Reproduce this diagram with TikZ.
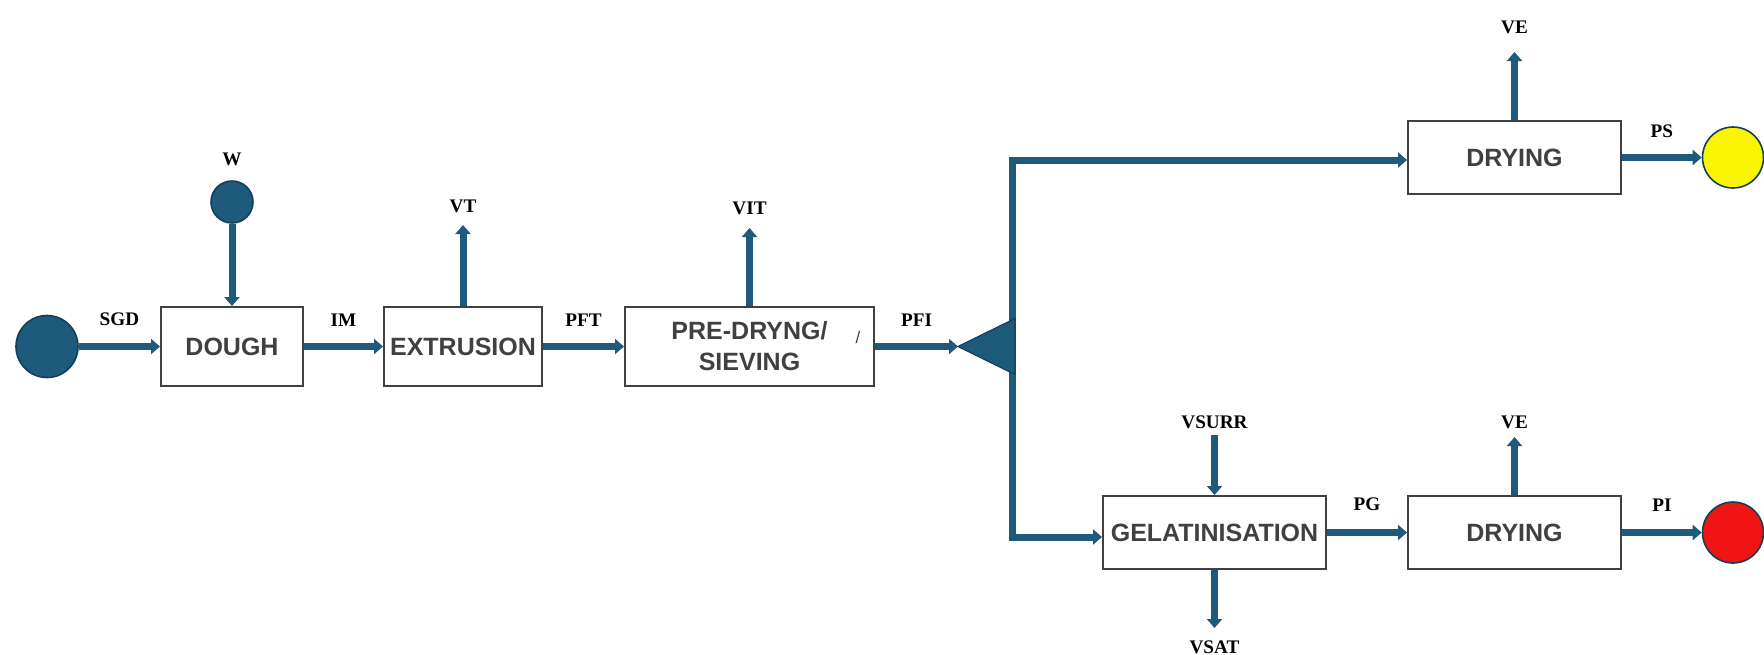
\documentclass[tikz,border=0pt]{standalone}
\usepackage{fontspec}
\setmainfont{Liberation Serif}
\newfontfamily\boxfont{Liberation Sans}
\usepackage{xcolor}
\usetikzlibrary{arrows.meta,positioning}

\definecolor{flowblue}{HTML}{1D5A7C}
\definecolor{flowdark}{HTML}{12405A}
\definecolor{boxgray}{HTML}{404040}
\definecolor{prodyellow}{HTML}{FAF500}
\definecolor{prodred}{HTML}{F01414}

\tikzset{
	procbox/.style={draw=boxgray, line width=1pt, fill=white, inner sep=0pt,
		minimum height=39.5pt, align=center, text=boxgray,
		font=\boxfont\bfseries\fontsize{12.5}{15.5}\selectfont},
	lbl/.style={font=\bfseries\fontsize{9.6}{11}\selectfont, inner sep=0pt},
	flow/.style={draw=flowblue, line width=3.5pt, -{Triangle[length=4.5pt,width=7.5pt]}},
	endpt/.style={circle, draw=flowdark, line width=0.8pt, inner sep=0pt}
}

\begin{document}
\begin{tikzpicture}[x=0.5pt,y=-0.5pt]
	\useasboundingbox (0,0) rectangle (1764,654);
	
	% process boxes
	\node[procbox, minimum width=71pt] (dough) at (232,346.5) {DOUGH};
	\node[procbox, minimum width=79pt] (extr) at (463,346.5) {EXTRUSION};
	\node[procbox, minimum width=124.5pt] (predry) at (749.5,346.5) {PRE-DRYNG/\\SIEVING};
	\node[font=\boxfont\fontsize{8.5}{9}\selectfont, text=boxgray, inner sep=0pt] (mark) at (858,337) {/};
	\node[procbox, minimum width=111.5pt, minimum height=36.5pt] (gelat) at (1214.5,532.5) {GELATINISATION};
	\node[procbox, minimum width=106.5pt, minimum height=36.5pt] (dryA) at (1514.5,157.5) {DRYING};
	\node[procbox, minimum width=106.5pt, minimum height=36.5pt] (dryB) at (1514.5,532.5) {DRYING};
	
	% inputs and products
	\node[endpt, fill=flowblue, minimum size=31pt] (src) at (47,346.5) {};
	\node[endpt, fill=flowblue, minimum size=21pt] (water) at (232,202) {};
	\node[lbl, above=7pt of water] (w) {W};
	\node[endpt, fill=prodyellow, minimum size=30.5pt] (prodS) at (1733,157.5) {};
	\node[endpt, fill=prodred, minimum size=30.5pt] (prodI) at (1733,532.5) {};
	
	% splitter
	\coordinate (split) at (958,346.5);
	\coordinate (fork) at (1012,346.5);
	\coordinate (forkN) at (1012,160);
	\coordinate (forkS) at (1012,537);
	
	% main line
	\draw[flow] (src) -- node[lbl, above=8.5pt] (sgd) {SGD} (dough);
	\draw[flow] (water) -- (dough);
	\draw[flow] (dough) -- node[lbl, above=8.5pt] (im) {IM} (extr);
	\draw[flow] (extr) -- node[lbl, above=8.5pt] (pft) {PFT} (predry);
	\draw[flow] (predry) -- node[lbl, above=8.5pt] (pfi) {PFI} (split);
	
	\draw[flow] (fork) -- (forkN) -- (forkN -| dryA.west);
	\draw[flow] (fork) -- (forkS) -- (forkS -| gelat.west);
	\fill[flowblue, draw=flowdark, line width=0.6pt] (split) -- (1015,318.5) -- (1015,374.5) -- cycle;
	
	\draw[flow] (gelat) -- node[lbl, above=9pt] (pg) {PG} (dryB);
	\draw[flow] (dryA) -- node[lbl, above=8pt] (ps) {PS} (prodS);
	\draw[flow] (dryB) -- node[lbl, above=9pt] (pi) {PI} (prodI);
	
	% vapour and water streams
	\coordinate (vtEnd) at (463,225);
	\draw[flow] (extr) -- (vtEnd);
	\node[lbl, above=6pt of vtEnd] (vt) {VT};
	
	\coordinate (vitEnd) at (749.5,228);
	\draw[flow] (predry) -- (vitEnd);
	\node[lbl, above=6.5pt of vitEnd] (vit) {VIT};
	
	\coordinate (veAEnd) at (1514.5,52);
	\draw[flow] (dryA) -- (veAEnd);
	\node[lbl, above=9pt of veAEnd] (veA) {VE};
	
	\coordinate (veBEnd) at (1514.5,437);
	\draw[flow] (dryB) -- (veBEnd);
	\node[lbl, above=4pt of veBEnd] (veB) {VE};
	
	\coordinate (vsurrStart) at (1214.5,435);
	\draw[flow] (vsurrStart) -- (gelat);
	\node[lbl, above=3pt of vsurrStart] (vsurr) {VSURR};
	
	\coordinate (vsatEnd) at (1214.5,628);
	\draw[flow] (gelat) -- (vsatEnd);
	\node[lbl, below=6pt of vsatEnd] (vsat) {VSAT};
	
\end{tikzpicture}
\end{document}
